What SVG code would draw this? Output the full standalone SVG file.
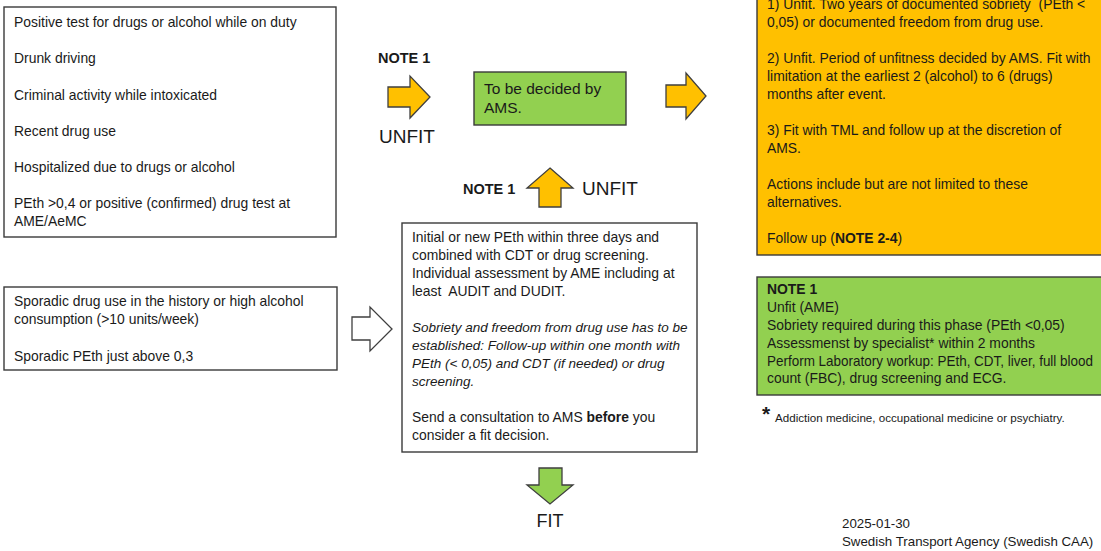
<svg xmlns="http://www.w3.org/2000/svg" width="1101" height="551" viewBox="0 0 1101 551">
<style>
text{font-family:"Liberation Sans",Arial,sans-serif;fill:#1a1a1a;white-space:pre}
.t{font-size:13.9px}
.box{fill:#fff;stroke:#3a3a3a;stroke-width:1.4}
.orange{fill:#FFC000;stroke:#3a3a3a;stroke-width:1.4}
.green{fill:#92D050;stroke:#3a3a3a;stroke-width:1.4}
.arrO{fill:#FFC000;stroke:#3f3f3f;stroke-width:1.3;stroke-linejoin:miter}
.arrG{fill:#92D050;stroke:#3f3f3f;stroke-width:1.3}
.arrW{fill:#fff;stroke:#3f3f3f;stroke-width:1.3}
.lbl{font-size:19px}
.note{font-size:14.5px;font-weight:bold}
.b{font-weight:bold}
.i{font-style:italic;font-size:13.5px}
</style>
<rect width="1101" height="551" fill="#fff"/>

<g id="criteria-unfit">
<rect class="box" x="4" y="7" width="332" height="230"/>
<text class="t" x="14" y="27">Positive test for drugs or alcohol while on duty</text>
<text class="t" x="14" y="63">Drunk driving</text>
<text class="t" x="14" y="99.5">Criminal activity while intoxicated</text>
<text class="t" x="14" y="135.5">Recent drug use</text>
<text class="t" x="14" y="172">Hospitalized due to drugs or alcohol</text>
<text class="t" x="14" y="208">PEth &gt;0,4 or positive (confirmed) drug test at</text>
<text class="t" x="14" y="226">AME/AeMC</text>
</g>

<g id="criteria-sporadic">
<rect class="box" x="4" y="287" width="333" height="83"/>
<text class="t" x="14" y="306">Sporadic drug use in the history or high alcohol</text>
<text class="t" x="14" y="324">consumption (&gt;10 units/week)</text>
<text class="t" x="14" y="361">Sporadic PEth just above 0,3</text>
</g>

<g id="decided-by-ams">
<rect class="green" x="474" y="72" width="152" height="53"/>
<text x="484" y="94" style="font-size:15.5px">To be decided by</text>
<text x="484" y="112.7" style="font-size:15.5px">AMS.</text>
</g>

<g id="ame-assessment">
<rect class="box" x="402" y="223" width="295" height="229"/>
<text class="t" x="412" y="242">Initial or new PEth within three days and</text>
<text class="t" x="412" y="260">combined with CDT or drug screening.</text>
<text class="t" x="412" y="278">Individual assessment by AME including at</text>
<text class="t" x="412" y="296">least  AUDIT and DUDIT.</text>
<text class="i" x="412" y="332">Sobriety and freedom from drug use has to be</text>
<text class="i" x="412" y="350">established: Follow-up within one month with</text>
<text class="i" x="412" y="368">PEth (&lt; 0,05) and CDT (if needed) or drug</text>
<text class="i" x="412" y="386">screening.</text>
<text class="t" x="412" y="422">Send a consultation to AMS <tspan class="b">before</tspan> you</text>
<text class="t" x="412" y="440">consider a fit decision.</text>
</g>

<g id="ams-actions">
<rect class="orange" x="757" y="-10" width="360" height="265"/>
<text class="t" x="767" y="9">1) Unfit. Two years of documented sobriety  (PEth &lt;</text>
<text class="t" x="767" y="26.7">0,05) or documented freedom from drug use.</text>
<text class="t" x="767" y="62.7">2) Unfit. Period of unfitness decided by AMS. Fit with</text>
<text class="t" x="767" y="80.7">limitation at the earliest 2 (alcohol) to 6 (drugs)</text>
<text class="t" x="767" y="98.7">months after event.</text>
<text class="t" x="767" y="134.7">3) Fit with TML and follow up at the discretion of</text>
<text class="t" x="767" y="152.7">AMS.</text>
<text class="t" x="767" y="188.7">Actions include but are not limited to these</text>
<text class="t" x="767" y="206.7">alternatives.</text>
<text class="t" x="767" y="242.7">Follow up (<tspan class="b">NOTE 2-4</tspan>)</text>
</g>

<g id="note-1">
<rect class="green" x="757" y="277" width="360" height="118"/>
<text class="t b" x="767" y="294">NOTE 1</text>
<text class="t" x="767" y="312.3">Unfit (AME)</text>
<text class="t" x="767" y="330">Sobriety required during this phase (PEth &lt;0,05)</text>
<text class="t" x="767" y="347.7">Assessmenst by specialist* within 2 months</text>
<text class="t" x="767" y="365.7" textLength="326" lengthAdjust="spacingAndGlyphs">Perform Laboratory workup: PEth, CDT, liver, full blood</text>
<text class="t" x="767" y="383.3">count (FBC), drug screening and ECG.</text>
</g>

<g id="footnote">
<text x="762" y="421" style="font-size:21px;font-weight:bold">*</text>
<text x="775" y="421.7" style="font-size:11.6px">Addiction medicine, occupational medicine or psychiatry.</text>
</g>

<g id="connectors">
<polygon class="arrO" points="388,87 410,87 410,76 430,97 410,118 410,107 388,107"/>
<text class="note" x="378" y="63.3">NOTE 1</text>
<text class="lbl" x="379" y="142.7">UNFIT</text>
<polygon class="arrO" points="666,85 686,85 686,73 706,96 686,119 686,107 666,107"/>
<polygon class="arrO" points="550,168 573,188 561,188 561,207 539,207 539,188 527,188"/>
<text class="note" x="463" y="194">NOTE 1</text>
<text class="lbl" x="582" y="195">UNFIT</text>
<polygon class="arrW" points="352,317 370,317 370,307 392,329 370,351 370,340 352,340"/>
<polygon class="arrG" points="539,468 562,468 562,485 573,485 550,504 527,485 539,485"/>
<text class="lbl" x="550" y="527" text-anchor="middle" style="font-size:18px">FIT</text>
</g>

<g id="footer">
<text x="842" y="528" style="font-size:13.3px">2025-01-30</text>
<text x="842" y="546" style="font-size:13.3px">Swedish Transport Agency (Swedish CAA)</text>
</g>
</svg>
